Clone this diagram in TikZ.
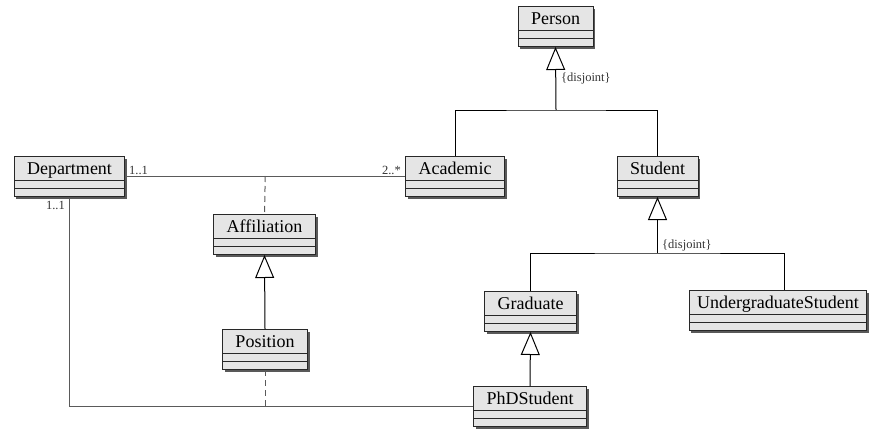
\documentclass[tikz,border=0pt]{standalone}
\usepackage{fontspec}
\setmainfont{Liberation Serif}
\usetikzlibrary{arrows.meta,shadows}
\definecolor{boxfill}{RGB}{229,229,229}
\definecolor{edgecol}{RGB}{40,40,40}
\definecolor{assoccol}{RGB}{90,90,90}
\begin{document}
\begin{tikzpicture}[x=1pt,y=-1pt,
  cls/.style={draw=edgecol, fill=boxfill, line width=1pt, minimum height=40pt,
    inner xsep=13pt, inner ysep=0pt, text height=17.5pt, text depth=22.5pt,
    font=\fontsize{18}{20}\selectfont, anchor=north,
    drop shadow={shadow xshift=2.2pt, shadow yshift=-2.2pt, fill=black!65, opacity=1},
    path picture={
      \draw[edgecol, line width=1pt] ([yshift=-24pt]path picture bounding box.north west) -- ([yshift=-24pt]path picture bounding box.north east);
      \draw[edgecol, line width=1pt] ([yshift=-32pt]path picture bounding box.north west) -- ([yshift=-32pt]path picture bounding box.north east);
    }},
  gen/.style={draw=black, line width=1pt},
  genarrow/.style={gen, -{Triangle[open, length=23pt, width=19pt, line width=1pt]}},
  assoc/.style={draw=assoccol, line width=1pt},
  dep/.style={assoc, dash pattern=on 6pt off 4pt},
  mult/.style={font=\fontsize{12.5}{14}\selectfont, inner sep=0pt, text=black!80},
]
\useasboundingbox (0,0) rectangle (872,431);

\node[cls] (Person) at (555.5,6) {Person};
\node[cls] (Academic) at (455,156) {Academic};
\node[cls] (Student) at (657.5,156) {Student};
\node[cls] (Department) at (69.5,156) {Department};
\node[cls] (Affiliation) at (264.5,214) {Affiliation};
\node[cls] (Position) at (265,329) {Position};
\node[cls] (Graduate) at (530.5,291) {Graduate};
\node[cls, inner xsep=8pt] (UG) at (778,290) {UndergraduateStudent};
\node[cls] (PhD) at (530,386) {PhDStudent};

% generalization Person
\coordinate (p1) at (556,110);
\draw[gen] (Academic.north) |- (p1) -| (Student.north);
\draw[genarrow] (p1) -- (Person.south);
\node[mult, anchor=west] (dj1) at (561,78) {\{disjoint\}};

% generalization Student
\coordinate (s1) at (657.5,253);
\draw[gen] (Graduate.north) |- (s1) -| ([xshift=6pt]UG.north);
\draw[genarrow] (s1) -- (Student.south);
\node[mult, anchor=west] (dj2) at (662,245) {\{disjoint\}};

% Graduate <- PhD
\draw[genarrow] (PhD.north) -- (Graduate.south);
% Affiliation <- Position
\draw[genarrow] (Position.north) -- (Affiliation.south);

% association Department - Academic
\draw[assoc] ([yshift=-20pt]Department.north east) -- coordinate[pos=0.5] (am) ([yshift=-20pt]Academic.north west);
\draw[dep] (am) -- (Affiliation.north);
\node[mult, anchor=west] (m1) at (129,170) {1..1};
\node[mult, anchor=east] (m2) at (401,170) {2..*};

% association Department - PhDStudent
\draw[assoc] (Department.south) |- (PhD.west);
\coordinate (dp) at (Position.south |- PhD.west);
\draw[dep] (Position.south) -- (dp);
\node[mult, anchor=east] (m3) at (65,205) {1..1};
\end{tikzpicture}
\end{document}
